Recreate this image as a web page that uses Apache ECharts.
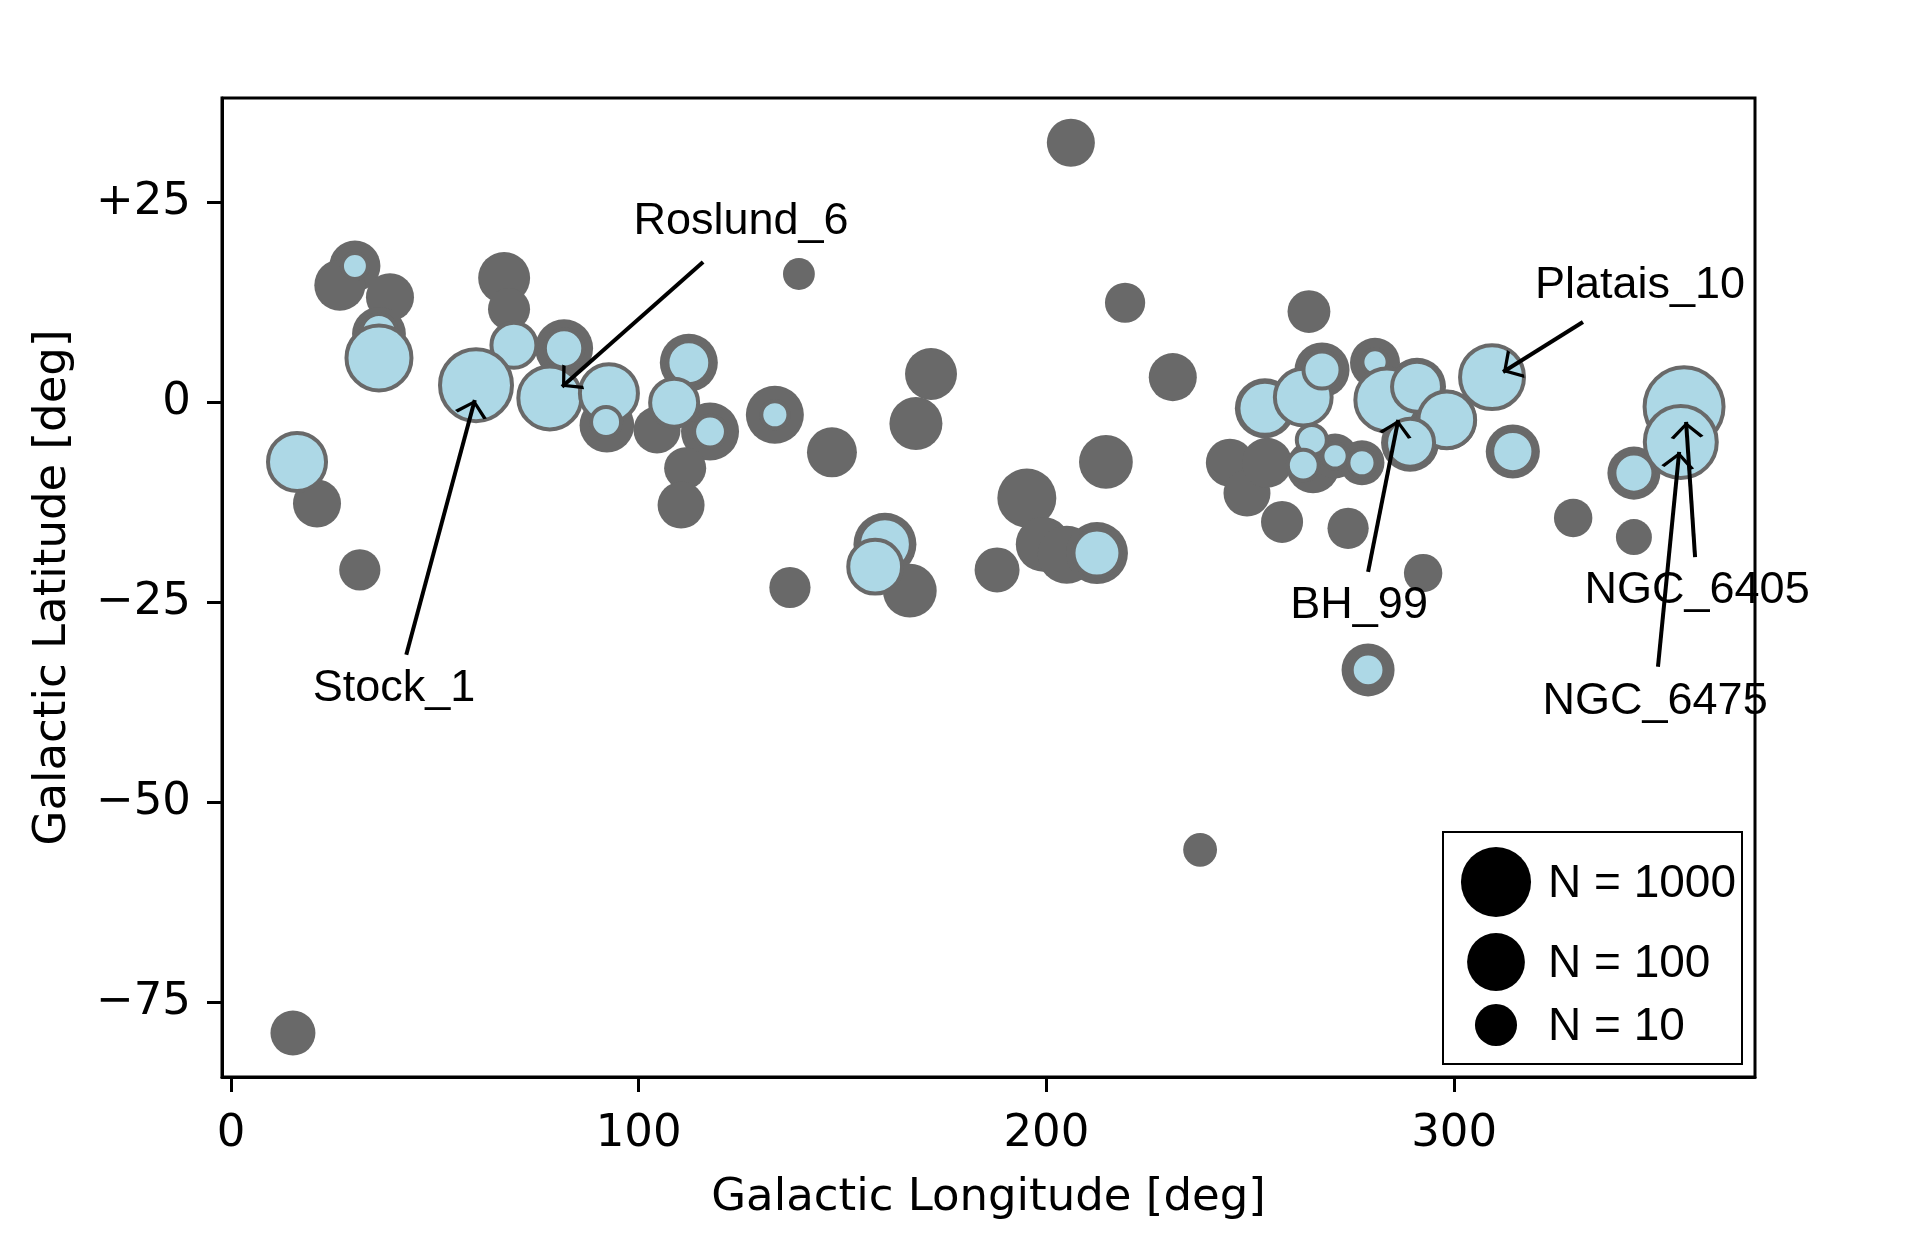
<!DOCTYPE html>
<html>
<head>
<meta charset="utf-8">
<title>Galactic positions</title>
<script src="https://cdn.jsdelivr.net/npm/echarts@6/dist/echarts.min.js"></script>
<style>
    html, body { margin: 0; padding: 0; background: #fff; }
    #chart { width: 1911px; height: 1237px; }
</style>
</head>
<body>
<div id="chart"></div>
<script>
// all clusters: [longitude, latitude, members]
var grayClusters = [
    [30.4, 17.0, 34], [26.7, 14.6, 34], [39.0, 13.1, 22], [36.3, 8.5, 52],
    [36.3, 5.5, 29], [16.2, -7.5, 29], [21.1, -12.7, 22], [31.6, -21.0, 9],
    [67.0, 15.5, 39], [68.2, 11.6, 10], [69.4, 7.1, 8], [60.1, 2.1, 60],
    [81.7, 6.7, 104], [78.2, 0.5, 60], [92.7, 1.1, 60], [92.2, -2.9, 60],
    [104.5, -3.5, 19], [112.3, 4.9, 104], [108.7, -0.1, 14], [117.5, -3.7, 104],
    [111.4, -8.3, 10], [110.4, -12.9, 19], [206.0, 32.4, 22], [139.3, 16.0, 3.3],
    [219.3, 12.4, 8], [171.7, 3.5, 39], [231.0, 3.1, 22], [133.4, -1.6, 104],
    [168.0, -2.7, 46], [147.4, -6.3, 29], [214.6, -7.5, 52], [195.2, -12.0, 123],
    [199.2, -17.8, 60], [205.0, -19.1, 104], [212.4, -18.9, 209], [160.4, -17.8, 250],
    [158.0, -20.6, 29], [166.5, -23.6, 52], [137.1, -23.2, 9], [187.9, -21.0, 14.5],
    [245.0, -7.6, 22], [249.2, -11.4, 19], [254.1, -7.6, 29], [264.4, 11.3, 11],
    [253.6, -0.8, 150], [263.0, 0.6, 88], [267.6, 4.0, 63], [280.6, 4.9, 29],
    [283.5, 0.25, 150], [290.9, 1.9, 104], [298.2, -2.25, 150], [289.2, -5.1, 104],
    [309.3, 3.1, 209], [314.4, -6.2, 55], [356.4, -0.6, 1490], [355.6, -5.0, 800],
    [344.1, -8.9, 46], [329.2, -14.5, 6.5], [344.1, -16.9, 5], [292.4, -21.4, 6.5],
    [278.9, -33.5, 46], [257.8, -15.0, 10], [274.0, -15.8, 9], [265.4, -8.1, 46],
    [270.8, -6.75, 14.5], [277.4, -7.6, 14.5], [15.2, -78.9, 14.5], [237.7, -56.0, 4]
];

// subset shown in light blue: [longitude, latitude, members]
var blueClusters = [
    [30.4, 17.0, 2.0], [36.3, 8.8, 4.5], [36.3, 5.5, 365], [16.2, -7.5, 104],
    [69.4, 7.1, 14.5], [60.1, 2.1, 1490], [81.7, 6.7, 6.5], [78.2, 0.5, 250],
    [92.7, 1.1, 104], [92.0, -2.5, 2.8], [112.3, 4.9, 11], [108.7, -0.1, 22],
    [117.5, -3.7, 3.3], [133.4, -1.6, 2.2], [212.4, -18.9, 19], [160.4, -17.8, 39],
    [158.0, -20.6, 52], [253.6, -0.8, 46], [263.0, 0.6, 84], [267.6, 4.0, 5.6],
    [280.6, 5.0, 1.9], [283.5, 0.25, 250], [290.9, 1.9, 29], [298.2, -2.25, 84],
    [289.2, -5.1, 22], [309.3, 3.1, 300], [314.4, -6.2, 9], [356.4, -0.6, 7000],
    [355.6, -5.0, 1490], [344.1, -8.9, 7], [278.9, -33.5, 3.6], [265.1, -4.75, 2.8],
    [263.0, -7.9, 3.0], [270.8, -6.75, 1.9], [277.4, -7.6, 2.2]
];

var annoNames = ['Stock_1', 'Roslund_6', 'Platais_10', 'BH_99', 'NGC_6405', 'NGC_6475'];
var annoText = [[40.0, -35.8], [125.1, 22.6], [345.6, 14.5], [276.7, -25.5], [359.6, -23.6], [349.3, -37.5]];
var annoTail = [[43.0, -31.6], [115.8, 17.5], [331.6, 10.0], [278.9, -21.25], [359.1, -19.4], [350.0, -33.1]];
var annoTip = [[59.8, 0.25], [81.2, 1.9], [312.0, 3.75], [286.3, -2.25], [356.9, -2.5], [355.2, -6.25]];

var legendN = [1000, 100, 10];
var xTicks = [0, 100, 200, 300];
var yTicks = [-75, -50, -25, 0, 25];

function sizeOf(n) {
    return Math.sqrt(1570 * Math.log10(n) + 200);
}

function yLabel(v) {
    if (v > 0) return '+' + v;
    if (v < 0) return '\u2212' + Math.abs(v);
    return '0';
}

var tickFont = 'DejaVu Sans';
var noteFont = 'Liberation Sans';

// open arrow head, tip at the symbol centre
var arrowHead = 'path://M0,-15.5 L0.01,-15.5 L0,-15.45 Z M0,0 L10,14 L8,15.5 L0,4 L-8,15.5 L-10,14 Z';

var chart = echarts.init(document.getElementById('chart'));

var legendItems = [
    { type: 'rect', shape: { x: 1443, y: 832, width: 299, height: 232 },
      style: { fill: '#fff', stroke: '#000', lineWidth: 2 } }
];
var legendY = [882, 962, 1025];
legendN.forEach(function (n, i) {
    legendItems.push({ type: 'circle', shape: { cx: 1496, cy: legendY[i], r: sizeOf(n) / 2 },
        style: { fill: '#000' } });
    legendItems.push({ type: 'text', x: 1548, y: legendY[i] + 2,
        style: { text: 'N = ' + n, fill: '#000', font: '46px "' + noteFont + '"',
                 verticalAlign: 'middle', align: 'left' } });
});

option = {
    backgroundColor: '#fff',
    animation: false,
    grid: {
        left: 222, top: 98, right: 156, bottom: 160,
        show: true, borderColor: '#000', borderWidth: 3
    },
    xAxis: {
        type: 'value',
        min: -2.2,
        max: 373.8,
        name: 'Galactic Longitude [deg]',
        nameLocation: 'middle',
        nameGap: 99,
        nameTextStyle: { fontFamily: tickFont, fontSize: 45, color: '#000' },
        splitLine: { show: false },
        axisLine: { show: true, onZero: false, lineStyle: { color: '#000', width: 3 } },
        axisTick: { show: true, inside: false, length: 15, customValues: xTicks,
                    lineStyle: { color: '#000', width: 3 } },
        axisLabel: { customValues: xTicks, margin: 35, fontFamily: tickFont, fontSize: 45, color: '#000' }
    },
    yAxis: {
        type: 'value',
        min: -84.4,
        max: 38,
        name: 'Galactic Latitude [deg]',
        nameLocation: 'middle',
        nameGap: 146,
        nameTextStyle: { fontFamily: tickFont, fontSize: 45, color: '#000' },
        splitLine: { show: false },
        axisLine: { show: true, onZero: false, lineStyle: { color: '#000', width: 3 } },
        axisTick: { show: true, inside: false, length: 15, customValues: yTicks,
                    lineStyle: { color: '#000', width: 3 } },
        axisLabel: { customValues: yTicks, margin: 31, fontFamily: tickFont, fontSize: 45, color: '#000',
                     formatter: yLabel }
    },
    series: [
        {
            name: 'all',
            type: 'scatter',
            z: 2,
            data: grayClusters,
            symbol: 'circle',
            symbolSize: function (v) { return sizeOf(v[2]); },
            itemStyle: { color: '#696969', opacity: 1 }
        },
        {
            name: 'subset',
            type: 'scatter',
            z: 3,
            data: blueClusters,
            symbol: 'circle',
            symbolSize: function (v) { return sizeOf(v[2]); },
            itemStyle: { color: '#add8e6', borderColor: '#696969', borderWidth: 4, opacity: 1 }
        },
        {
            name: 'arrows',
            type: 'lines',
            coordinateSystem: 'cartesian2d',
            z: 5,
            symbol: ['none', arrowHead],
            symbolSize: [22, 33],
            lineStyle: { color: '#000', width: 4, opacity: 1, curveness: 0 },
            data: annoTail.map(function (t, i) {
                return { coords: [t, annoTip[i]] };
            })
        },
        {
            name: 'labels',
            type: 'scatter',
            z: 6,
            clip: false,
            symbolSize: 0,
            silent: true,
            itemStyle: { opacity: 1 },
            data: annoText.map(function (p, i) {
                return { name: annoNames[i], value: p };
            }),
            label: {
                show: true,
                position: 'inside',
                formatter: '{b}',
                fontFamily: noteFont,
                fontSize: 45,
                color: '#000',
                opacity: 1
            }
        }
    ],
    graphic: legendItems
};

chart.setOption(option);
</script>
</body>
</html>
